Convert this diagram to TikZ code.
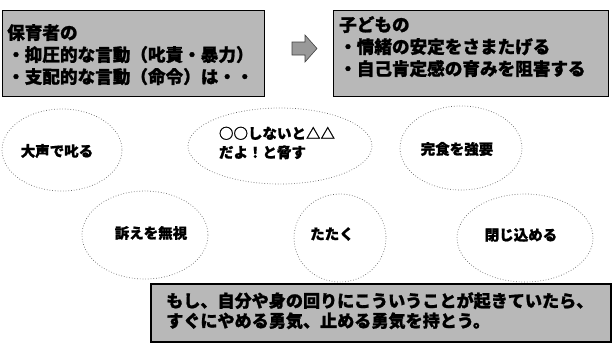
\documentclass[tikz,border=0pt]{standalone}
\usepackage{fontspec}
\newfontfamily\jp{Noto Sans CJK JP}[FakeBold=1.2]
\tikzset{
  px/.style={x=1pt,y=-1pt},
  graybox/.style={draw=black, line width=1.8pt, fill=black!28, rectangle},
  boxtext/.style={anchor=north west, align=left, inner sep=0pt, font=\jp\bfseries\fontsize{17.6}{22}\selectfont},
  bubble/.style={draw=black!60, dotted, line width=0.7pt},
  bubbletext/.style={font=\jp\bfseries\fontsize{14.5}{19}\selectfont, align=left, inner sep=0pt},
}
\begin{document}
\begin{tikzpicture}[px]
\useasboundingbox (0,0) rectangle (613,360);
% top boxes
\node[graybox, minimum width=262pt, minimum height=86pt] (lbox) at (133.5,53.5) {};
\node[boxtext] (ltext) at (7,24) {保育者の\\・抑圧的な言動（叱責・暴力）\\・支配的な言動（命令）は・・};
\filldraw[fill=black!40, draw=black!75, line width=0.6pt] (292,42) -- (305,42) -- (305,35) -- (317,48.5) -- (305,62) -- (305,55) -- (292,55) -- cycle;
\node[graybox, minimum width=275pt, minimum height=86pt] (rbox) at (471,53.5) {};
\node[boxtext] (rtext) at (339,16) {子どもの\\・情緒の安定をさまたげる\\・自己肯定感の育みを阻害する};
% bubbles
\draw[bubble] (62,150) ellipse [x radius=60, y radius=41];
\node[bubbletext] (b1) at (57,151) {大声で叱る};
\draw[bubble] (280,146) ellipse [x radius=92, y radius=38];
\node[bubbletext] (b2) at (277,143) {○○しないと△△\\だよ！と脅す};
\draw[bubble] (461,148) ellipse [x radius=61, y radius=42];
\node[bubbletext] (b3) at (457,149) {完食を強要};
\draw[bubble] (145,235) ellipse [x radius=63, y radius=44];
\node[bubbletext] (b4) at (151,233) {訴えを無視};
\draw[bubble] (340,238) ellipse [x radius=46, y radius=44];
\node[bubbletext] (b5) at (332,234) {たたく};
\draw[bubble] (525,238) ellipse [x radius=68, y radius=44];
\node[bubbletext] (b6) at (521,235) {閉じ込める};
% bottom box
\node[graybox, minimum width=460pt, minimum height=58pt] (bbox) at (381,313) {};
\node[boxtext, font=\jp\bfseries\fontsize{17.1}{20}\selectfont] (btext) at (166,292) {もし、自分や身の回りにこういうことが起きていたら、\\すぐにやめる勇気、止める勇気を持とう。};
\end{tikzpicture}
\end{document}
